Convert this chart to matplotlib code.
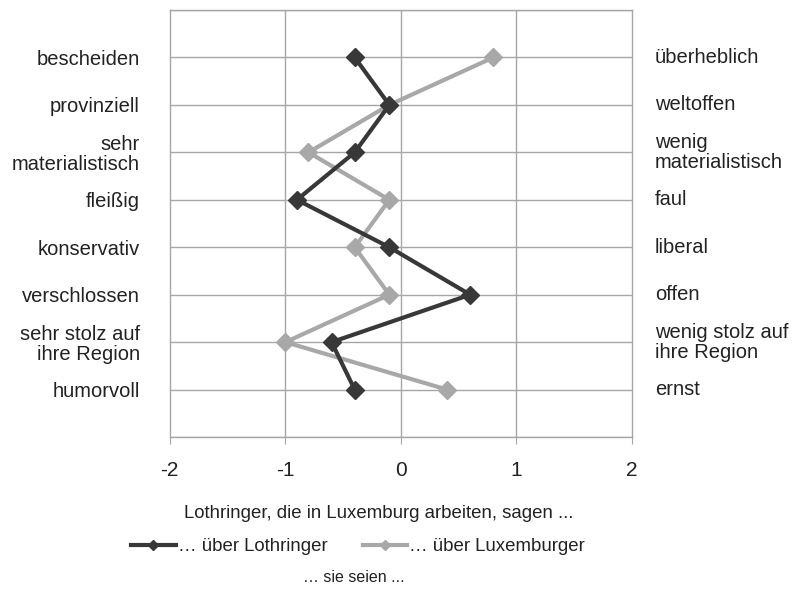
import matplotlib.pyplot as plt

plt.rcParams['font.family'] = ['Liberation Sans', 'DejaVu Sans']

left_labels = ["bescheiden", "provinziell", "sehr\nmaterialistisch", "fleißig",
               "konservativ", "verschlossen", "sehr stolz auf\nihre Region", "humorvoll"]
right_labels = ["überheblich", "weltoffen", "wenig\nmaterialistisch", "faul",
                "liberal", "offen", "wenig stolz auf\nihre Region", "ernst"]
ueber_lothringer = [-0.4, -0.1, -0.4, -0.9, -0.1, 0.6, -0.6, -0.4]
ueber_luxemburger = [0.8, -0.1, -0.8, -0.1, -0.4, -0.1, -1.0, 0.4]

dark = "#383838"
light = "#a8a8a8"
grid = "#a6a6a6"
txt = "#222222"

fig = plt.figure(figsize=(8.01, 5.89), dpi=100)
ax = fig.add_axes([0.212, 0.258, 0.577, 0.725])

rows = list(range(1, len(left_labels) + 1))
ax.plot(ueber_lothringer, rows, color=dark, lw=3, marker="D", ms=9.5,
        label="… über Lothringer", zorder=4)
ax.plot(ueber_luxemburger, rows, color=light, lw=3, marker="D", ms=9.5,
        label="… über Luxemburger", zorder=3)

ax.set_xlim(-2, 2)
ax.set_ylim(9, 0)
ax.set_xticks([-2, -1, 0, 1, 2], ["-2", "-1", "0", "1", "2"])
ax.set_yticks(rows, left_labels, ha="right", linespacing=1.05)
ax.tick_params(axis="y", length=0, pad=21.5, labelsize=14.5, labelcolor=txt)
ax.tick_params(axis="x", length=5, color=grid, pad=12, labelsize=15, labelcolor=txt)

for y in range(0, 10):
    ax.axhline(y, color=grid, lw=1, zorder=1)
for x in [-1, 0, 1]:
    ax.axvline(x, color=grid, lw=1, zorder=1)
for s in ax.spines.values():
    s.set_color(grid)
    s.set_linewidth(1)

for r, lab in zip(rows, right_labels):
    ax.text(2.2, r, lab, ha="left", va="center", fontsize=14.5, color=txt,
            linespacing=1.05, clip_on=False)

fig.text(0.473, 0.128, "Lothringer, die in Luxemburg arbeiten, sagen ...",
         ha="center", va="center", fontsize=13.4, color=txt)
fig.legend(loc="center", bbox_to_anchor=(0.447, 0.072), ncol=2, frameon=False,
           fontsize=13.4, markerscale=0.5, handlelength=2.4, handletextpad=0.1,
           columnspacing=1.9, labelcolor=txt)
fig.text(0.442, 0.02, "… sie seien ...", ha="center", va="center",
         fontsize=11.5, color=txt)

fig.savefig("out.png", dpi=100)
